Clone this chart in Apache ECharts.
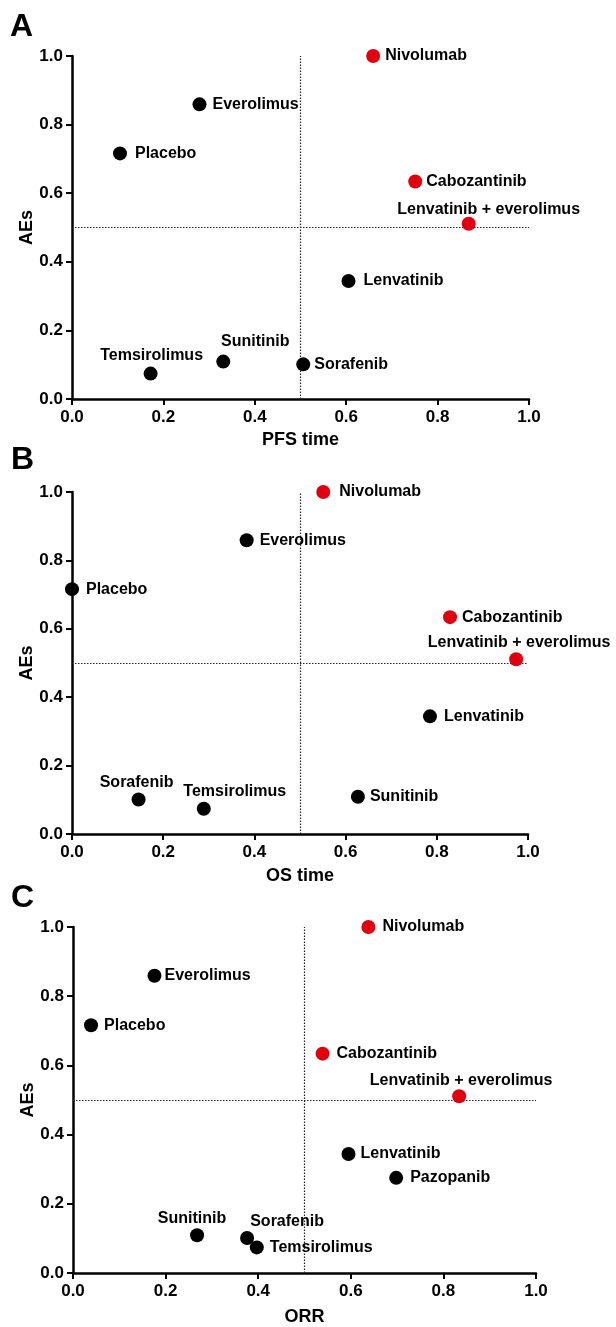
<!DOCTYPE html>
<html>
<head>
<meta charset="utf-8">
<script src="https://cdn.jsdelivr.net/npm/echarts@6/dist/echarts.min.js"></script>
<style>
html,body{margin:0;padding:0;background:#fff;}
#chart{width:616px;height:1327px;}
</style>
</head>
<body>
<div id="chart"></div>
<script>
// ---- Data ----
const panelLetters = ['A', 'B', 'C'];
const xAxisTitles = ['PFS time', 'OS time', 'ORR'];
const yAxisTitle = 'AEs';
const tickValues = [0, 0.2, 0.4, 0.6, 0.8, 1.0];
const tickLabels = ['0.0', '0.2', '0.4', '0.6', '0.8', '1.0'];
const redDrugs = ['Nivolumab', 'Cabozantinib', 'Lenvatinib + everolimus'];

// Panel A
const drugsA = ['Nivolumab', 'Everolimus', 'Placebo', 'Cabozantinib', 'Lenvatinib + everolimus', 'Lenvatinib', 'Sorafenib', 'Sunitinib', 'Temsirolimus'];
const pfsTime = [0.659, 0.279, 0.105, 0.751, 0.868, 0.605, 0.506, 0.331, 0.172];
const aesA = [1.0, 0.859, 0.716, 0.634, 0.511, 0.344, 0.101, 0.109, 0.074];

// Panel B
const drugsB = ['Nivolumab', 'Everolimus', 'Placebo', 'Cabozantinib', 'Lenvatinib + everolimus', 'Lenvatinib', 'Sunitinib', 'Sorafenib', 'Temsirolimus'];
const osTime = [0.551, 0.383, 0.0, 0.829, 0.974, 0.785, 0.627, 0.146, 0.289];
const aesB = [1.0, 0.859, 0.716, 0.634, 0.511, 0.344, 0.109, 0.101, 0.074];

// Panel C
const drugsC = ['Nivolumab', 'Everolimus', 'Placebo', 'Cabozantinib', 'Lenvatinib + everolimus', 'Lenvatinib', 'Pazopanib', 'Sunitinib', 'Sorafenib', 'Temsirolimus'];
const orr = [0.638, 0.176, 0.039, 0.539, 0.834, 0.595, 0.698, 0.268, 0.376, 0.397];
const aesC = [1.0, 0.859, 0.716, 0.634, 0.511, 0.344, 0.275, 0.109, 0.101, 0.074];

// ---- Label placement (position, dx, dy) ----
const labelPlaceA = {
  'Nivolumab': ['right', 0, 0], 'Everolimus': ['right', 1, 0], 'Placebo': ['right', 3, 0],
  'Cabozantinib': ['right', -1, 0], 'Lenvatinib + everolimus': ['top', 20, 6],
  'Lenvatinib': ['right', 3, 0], 'Sorafenib': ['right', -1, 0],
  'Sunitinib': ['top', 32, 0], 'Temsirolimus': ['top', 1, 2]
};
const labelPlaceB = {
  'Nivolumab': ['right', 4, 0], 'Everolimus': ['right', 1, 0], 'Placebo': ['right', 2, 0],
  'Cabozantinib': ['right', 0, 0], 'Lenvatinib + everolimus': ['top', 3, 3],
  'Lenvatinib': ['right', 2, 0], 'Sunitinib': ['right', 0, 0],
  'Sorafenib': ['top', -2, 3], 'Temsirolimus': ['top', 31, 3]
};
const labelPlaceC = {
  'Nivolumab': ['right', 2, 0], 'Everolimus': ['right', -2, 0], 'Placebo': ['right', 1, 0],
  'Cabozantinib': ['right', 2, 0], 'Lenvatinib + everolimus': ['top', 2, 4],
  'Lenvatinib': ['right', 0, 0], 'Pazopanib': ['right', 2, 0],
  'Sunitinib': ['top', -5, 3], 'Sorafenib': ['top', 40, 4], 'Temsirolimus': ['right', 1, 0]
};

// ---- Layout ----
const FONT = '"Liberation Sans", Arial, Helvetica, sans-serif';
const grids = [
  { left: 72, top: 56, width: 457, height: 343 },
  { left: 72, top: 492, width: 456, height: 342 },
  { left: 73, top: 927, width: 463, height: 347 }
];
const nameGaps = [32, 33, 35];
const letterPos = [[10, 27], [11, 460], [11, 898]];

const panels = [
  { drugs: drugsA, xs: pfsTime, ys: aesA, place: labelPlaceA },
  { drugs: drugsB, xs: osTime, ys: aesB, place: labelPlaceB },
  { drugs: drugsC, xs: orr, ys: aesC, place: labelPlaceC }
];

function fmt(v) {
  const i = tickValues.findIndex(t => Math.abs(t - v) < 1e-6);
  return i >= 0 ? tickLabels[i] : '';
}

const axisCommon = {
  min: 0, max: 1, interval: 0.2,
  axisLine: { show: true, lineStyle: { color: '#000', width: 2.5 } },
  axisTick: { show: true, inside: false, length: 6, lineStyle: { color: '#000', width: 2 } },
  splitLine: { show: false },
  nameLocation: 'middle',
  nameMoveOverlap: false,
  nameTextStyle: { color: '#000', fontSize: 18, fontWeight: 'bold', fontFamily: FONT }
};

const xAxes = [], yAxes = [], series = [], graphics = [];
panels.forEach((p, k) => {
  xAxes.push(Object.assign({}, axisCommon, {
    type: 'value', gridIndex: k, name: xAxisTitles[k], nameGap: nameGaps[k],
    axisLabel: { color: '#000', fontSize: 17, fontWeight: 'bold', fontFamily: FONT, margin: 10, formatter: fmt }
  }));
  yAxes.push(Object.assign({}, axisCommon, {
    type: 'value', gridIndex: k, name: yAxisTitle, nameGap: 36, nameRotate: 90,
    axisLabel: { color: '#000', fontSize: 17, fontWeight: 'bold', fontFamily: FONT, margin: 9, formatter: fmt }
  }));
  const data = p.drugs.map((d, i) => {
    const pl = p.place[d];
    return {
      name: d,
      value: [p.xs[i], p.ys[i]],
      itemStyle: { color: redDrugs.includes(d) ? '#e2000f' : '#000', opacity: 1 },
      label: { show: true, position: pl[0], offset: [pl[1], pl[2]], distance: 5 }
    };
  });
  series.push({
    type: 'scatter', xAxisIndex: k, yAxisIndex: k, clip: false,
    symbol: 'circle', symbolSize: 14, z: 3,
    itemStyle: { opacity: 1 },
    label: {
      show: true, formatter: '{b}', color: '#000', opacity: 1, fontSize: 16, fontWeight: 'bold', fontFamily: FONT
    },
    emphasis: { disabled: true },
    data: data,
    markLine: {
      silent: true, symbol: 'none', animation: false, z: 1,
      label: { show: false },
      lineStyle: { color: '#222', width: 1.2, type: [1.5, 1.5], opacity: 1 },
      data: [{ xAxis: 0.5 }, { yAxis: 0.5 }]
    }
  });
  graphics.push({
    type: 'text', x: letterPos[k][0], y: letterPos[k][1],
    style: {
      text: panelLetters[k], fill: '#000',
      font: 'bold 32px ' + FONT, verticalAlign: 'middle', textVerticalAlign: 'middle', align: 'left'
    }
  });
});

const chart = echarts.init(document.getElementById('chart'), null, { renderer: 'canvas' });
chart.setOption({
  backgroundColor: '#fff',
  animation: false,
  grid: grids,
  xAxis: xAxes,
  yAxis: yAxes,
  series: series,
  graphic: graphics
});
</script>
</body>
</html>
